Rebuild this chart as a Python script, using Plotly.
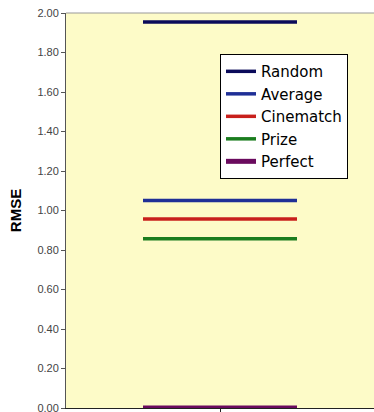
import plotly.graph_objects as go

series_names = ["Random", "Average", "Cinematch", "Prize", "Perfect"]
rmse_values = [1.954, 1.051, 0.957, 0.857, 0.0]
series_colors = ["#0a0a5a", "#1f2f96", "#c8201c", "#1a7d1e", "#6a0a5e"]
x_span = [0.5, 1.5]
y_ticks = [0.0, 0.2, 0.4, 0.6, 0.8, 1.0, 1.2, 1.4, 1.6, 1.8, 2.0]

fig = go.Figure()
for name, val, col in zip(series_names, rmse_values, series_colors):
    fig.add_trace(go.Scatter(
        x=x_span, y=[val, val], mode="lines", name=name,
        line=dict(color=col, width=3.5 if name != "Perfect" else 5),
        cliponaxis=False,
    ))

fig.update_layout(
    width=374, height=412,
    margin=dict(l=66, r=0, t=13, b=4, autoexpand=False),
    paper_bgcolor="white",
    plot_bgcolor="#fdfbc8",
    font=dict(family="Liberation Sans, Arial, sans-serif", color="#333333"),
    showlegend=True,
    legend=dict(
        x=0.50, y=0.896, xanchor="left", yanchor="top",
        bgcolor="white", bordercolor="black", borderwidth=1,
        font=dict(size=15, color="black", family="DejaVu Sans, sans-serif"),
        itemwidth=30, tracegroupgap=0,
    ),
)
fig.update_xaxes(
    range=[0, 2], showgrid=False, zeroline=False, automargin=False,
    tickvals=[1], ticktext=[""], ticks="outside", ticklen=5, tickcolor="#222",
    showline=True, linecolor="#222", linewidth=1, mirror=False,
)
fig.update_yaxes(
    range=[0, 2], showgrid=False, zeroline=False, automargin=False,
    tickvals=y_ticks, tickformat=".2f", ticks="outside", ticklen=4, tickcolor="#555",
    tickfont=dict(size=11, color="#444"), ticklabeloverflow="allow",
    showline=True, linecolor="#555", linewidth=1,
    title=dict(text="<b>RMSE</b>", font=dict(size=15, color="black"), standoff=12),
)
# top border of plot area
fig.add_shape(type="line", xref="paper", yref="paper", x0=0, x1=1, y0=1, y1=1,
              line=dict(color="#999999", width=1))

fig.write_html(
    "out.html",
    config={"displayModeBar": False},
    post_script="document.body.style.margin='0';document.body.style.overflow='hidden';",
)
